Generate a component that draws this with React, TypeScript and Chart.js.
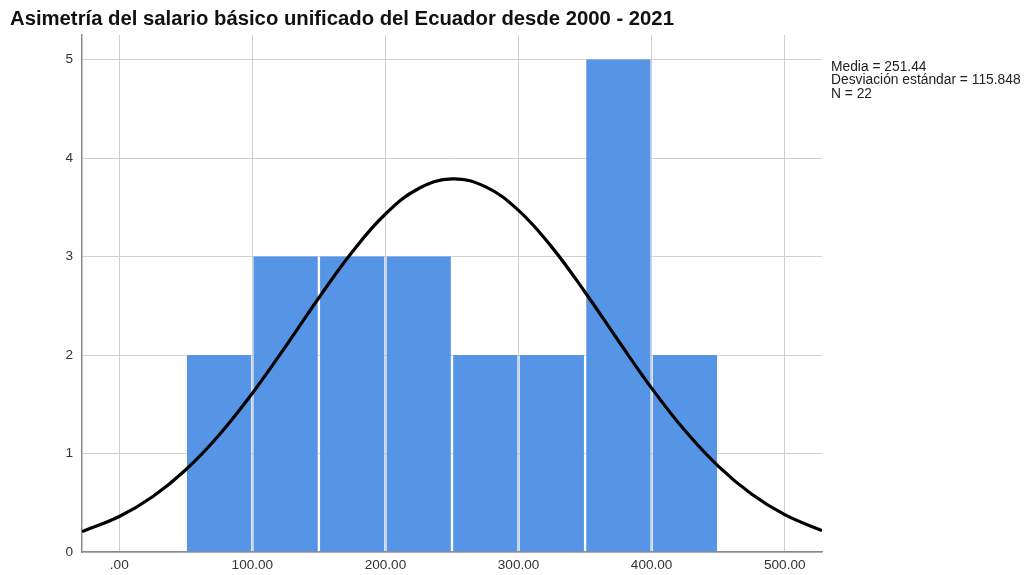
import React, { useEffect, useRef } from "react";
import { Chart, registerables } from "chart.js";

Chart.register(...registerables);

const TITLE = "Asimetría del salario básico unificado del Ecuador desde 2000 - 2021";
const binCenters = [75, 125, 175, 225, 275, 325, 375, 425];
const binCounts = [2, 3, 3, 3, 2, 2, 5, 2];
const curveX = [-28, 0, 25, 50, 75, 100, 125, 150, 175, 200, 225, 250, 275, 300, 325, 350, 375, 400, 425, 450, 475, 500, 525, 528];
const curveY = [0.207, 0.36, 0.561, 0.835, 1.188, 1.612, 2.088, 2.582, 3.047, 3.432, 3.691, 3.788, 3.71, 3.469, 3.096, 2.638, 2.145, 1.664, 1.233, 0.872, 0.589, 0.379, 0.233, 0.219];
const statLines = ["Media = 251.44", "Desviación estándar = 115.848", "N = 22"];
const xTickValues = [0, 100, 200, 300, 400, 500];
const yTickValues = [0, 1, 2, 3, 4, 5];

const W = 1025;
const H = 575;
const FONT = "'Liberation Sans', Arial, sans-serif";

export default function App() {
  const ref = useRef<HTMLCanvasElement>(null);
  useEffect(() => {
    const canvas = ref.current!;
    const textPlugin = {
      id: "texts",
      afterDraw(chart: any) {
        const ctx = chart.ctx;
        ctx.save();
        ctx.fillStyle = "#111";
        ctx.font = `bold 20.3px ${FONT}`;
        ctx.textAlign = "left";
        ctx.textBaseline = "middle";
        ctx.fillText(TITLE, 10, 19);
        ctx.font = `13.8px ${FONT}`;
        ctx.fillStyle = "#222";
        statLines.forEach((s, i) => ctx.fillText(s, 831, 67 + i * 13.5));
        ctx.restore();
      },
    };
    const chart = new Chart(canvas, {
      type: "bar",
      data: {
        datasets: [
          {
            type: "line",
            data: curveX.map((x, i) => ({ x, y: curveY[i] })),
            borderColor: "#000",
            borderWidth: 3.2,
            pointRadius: 0,
            tension: 0.4,
            fill: false,
            order: 0,
          } as any,
          {
            type: "bar",
            data: binCenters.map((x, i) => ({ x, y: binCounts[i] })),
            backgroundColor: "#5695e5",
            borderWidth: 0,
            barPercentage: 0.965,
            categoryPercentage: 1,
            order: 1,
          } as any,
        ],
      },
      options: {
        responsive: false,
        animation: false,
        layout: { padding: { left: 0, right: W - 822, top: 35, bottom: 0 } },
        plugins: { legend: { display: false }, tooltip: { enabled: false }, title: { display: false } },
        scales: {
          x: {
            type: "linear",
            offset: false,
            min: -28,
            max: 528,
            afterBuildTicks: (s: any) => {
              s.ticks = xTickValues.map((v) => ({ value: v }));
            },
            afterFit: (s: any) => {
              s.height = H - 552;
            },
            ticks: {
              includeBounds: false,
              padding: 5,
              color: "#333",
              font: { family: FONT, size: 13.6 },
              callback: (v: any) => (v === 0 ? ".00" : Number(v).toFixed(2)),
            },
            grid: { color: "#d0d0d0", lineWidth: 1, drawTicks: false, offset: false },
            border: { color: "#8a8a8a", width: 1.5 },
          },
          y: {
            type: "linear",
            min: 0,
            max: 5.25,
            afterBuildTicks: (s: any) => {
              s.ticks = yTickValues.map((v) => ({ value: v }));
            },
            afterFit: (s: any) => {
              s.width = 82;
            },
            ticks: {
              includeBounds: false,
              padding: 9,
              color: "#333",
              font: { family: FONT, size: 13.6 },
              callback: (v: any) => String(v),
            },
            grid: { color: "#d0d0d0", lineWidth: 1, drawTicks: false, offset: false },
            border: { color: "#8a8a8a", width: 1.5 },
          },
        },
      },
      plugins: [textPlugin],
    });
    return () => chart.destroy();
  }, []);
  return (
    <div style={{ position: "fixed", left: 0, top: 0, width: W, height: H, background: "#fff" }}>
      <canvas ref={ref} width={W} height={H} style={{ width: W, height: H, display: "block" }} />
    </div>
  );
}
